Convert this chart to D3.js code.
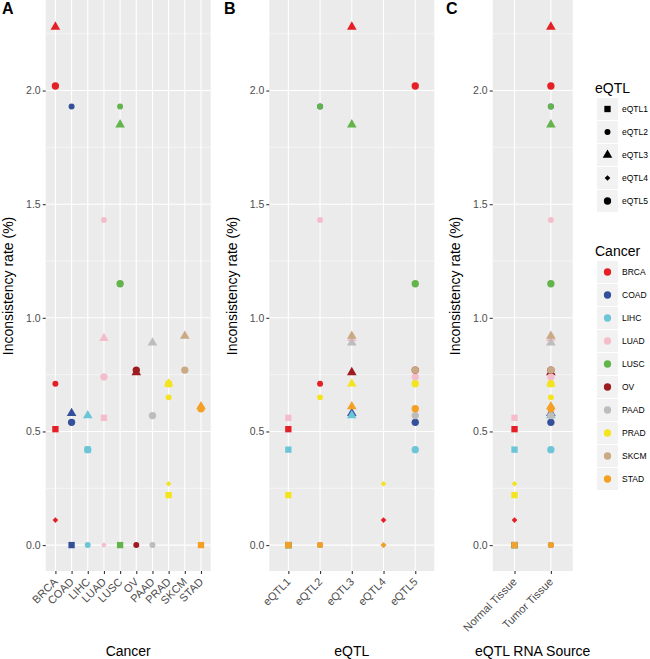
<!DOCTYPE html>
<html>
<head>
<meta charset="utf-8">
<script src="https://cdn.jsdelivr.net/npm/d3@7"></script>
<style>
  html, body { margin: 0; padding: 0; background: #fff; }
  svg { display: block; font-family: "Liberation Sans", Arial, Helvetica, sans-serif; }
</style>
</head>
<body>
<svg id="chart" width="650" height="659"></svg>
<script>
// ---------------- data ----------------
const cancers = ["BRCA","COAD","LIHC","LUAD","LUSC","OV","PAAD","PRAD","SKCM","STAD"];
const cancerColors = ["#E41F25","#35509A","#6CC6D7","#F5BDCC","#62B44B","#9E1C21","#BDBDBD","#F3E41F","#C9AA84","#F4A025"];
const eqtlTypes = ["eQTL1","eQTL2","eQTL3","eQTL4","eQTL5"];
const rnaSources = ["Normal Tissue","Tumor Tissue"];
const eqtlSource = ["Normal Tissue","Tumor Tissue","Tumor Tissue","Normal Tissue","Tumor Tissue"];
const yTicks = [0, 0.5, 1.0, 1.5, 2.0];
const yMinorTicks = [0.25, 0.75, 1.25, 1.75, 2.25];

// inconsistency rate (%) per cancer, in the order of `cancers` (null = not present)
const eqtl1Values = [0.51, 0,    0.42, 0.56, 0,    null, null, 0.22, null, 0   ];
const eqtl2Values = [0.71, 1.93, 0,    1.43, 1.93, 0,    0,    0.65, null, 0   ];
const eqtl3Values = [2.28, 0.58, 0.57, 0.91, 1.85, 0.76, 0.89, 0.71, 0.92, 0.61];
const eqtl4Values = [0.11, null, null, 0,    null, null, 0,    0.27, null, 0   ];
const eqtl5Values = [2.02, 0.54, 0.42, 0.74, 1.15, 0.77, 0.57, 0.71, 0.77, 0.60];

const seriesValues = [eqtl1Values, eqtl2Values, eqtl3Values, eqtl4Values, eqtl5Values];

// long table, ordered by eQTL then cancer (drawing order)
const rows = [];
eqtlTypes.forEach((eq, i) => {
  cancers.forEach((c, j) => {
    const v = seriesValues[i][j];
    if (v !== null && v !== undefined) {
      rows.push({ eqtl: eq, cancer: c, source: eqtlSource[i], value: v });
    }
  });
});

// ---------------- layout ----------------
const svg = d3.select("#chart");
const panelTop = 1, panelBottom = 571;
const panels = [
  { key: "cancer", label: "A", x0: 45.7,  x1: 210.7, domain: cancers,    title: "Cancer",          labelX: 2,   yTitleX: 13 },
  { key: "eqtl",   label: "B", x0: 269.3, x1: 434.3, domain: eqtlTypes,  title: "eQTL",            labelX: 224, yTitleX: 236.5 },
  { key: "source", label: "C", x0: 492.7, x1: 572.7, domain: rnaSources, title: "eQTL RNA Source", labelX: 446, yTitleX: 460 }
];

const yMax = d3.max(rows, d => d.value), yMin = 0;
const pad = (yMax - yMin) * 0.05;
const y = d3.scaleLinear().domain([yMin - pad, yMax + pad]).range([panelBottom, panelTop]);

const colorScale = d3.scaleOrdinal().domain(cancers).range(cancerColors);

// shapes: eQTL1 square, eQTL2 small circle, eQTL3 triangle, eQTL4 small diamond, eQTL5 large circle
const shapeSpec = {
  eQTL1: { type: d3.symbolSquare,   size: 40, rot: 0 },
  eQTL2: { type: d3.symbolCircle,   size: 28, rot: 0 },
  eQTL3: { type: d3.symbolTriangle, size: 40, rot: 0 },
  eQTL4: { type: d3.symbolSquare,   size: 16, rot: 45 },
  eQTL5: { type: d3.symbolCircle,   size: 42, rot: 0 }
};
const symPath = eq => d3.symbol().type(shapeSpec[eq].type).size(shapeSpec[eq].size)();

panels.forEach(p => {
  const g = svg.append("g");
  const x = d3.scalePoint().domain(p.domain).range([p.x0, p.x1]).padding(0.6);

  // background
  g.append("rect")
    .attr("x", p.x0).attr("y", 0)
    .attr("width", p.x1 - p.x0).attr("height", panelBottom)
    .attr("fill", "#EBEBEB");

  // minor grid
  g.selectAll(".ygm").data(yMinorTicks).join("line")
    .attr("x1", p.x0).attr("x2", p.x1)
    .attr("y1", d => y(d)).attr("y2", d => y(d))
    .attr("stroke", "#fff").attr("stroke-width", 0.55);
  // major grid
  g.selectAll(".yg").data(yTicks).join("line")
    .attr("x1", p.x0).attr("x2", p.x1)
    .attr("y1", d => y(d)).attr("y2", d => y(d))
    .attr("stroke", "#fff").attr("stroke-width", 1.1);
  g.selectAll(".xg").data(p.domain).join("line")
    .attr("x1", d => x(d)).attr("x2", d => x(d))
    .attr("y1", 0).attr("y2", panelBottom)
    .attr("stroke", "#fff").attr("stroke-width", 1.1);

  // points
  g.selectAll(".pt").data(rows).join("path")
    .attr("d", d => symPath(d.eqtl))
    .attr("transform", d => `translate(${x(d[p.key])},${y(d.value)}) rotate(${shapeSpec[d.eqtl].rot})`)
    .attr("fill", d => colorScale(d.cancer));

  // y axis
  const ya = g.append("g").attr("transform", `translate(${p.x0},0)`)
    .call(d3.axisLeft(y).tickValues(yTicks).tickFormat(d3.format(".1f")).tickSize(3).tickPadding(2));
  ya.select(".domain").remove();
  ya.selectAll(".tick line").attr("stroke", "#333").attr("stroke-width", 1.1);
  ya.selectAll(".tick text").attr("fill", "#4D4D4D").style("font-size", "10.5px")
    .style("font-family", "'Liberation Sans', Arial, sans-serif");

  // x axis
  const xa = g.append("g").attr("transform", `translate(0,${panelBottom})`)
    .call(d3.axisBottom(x).tickSize(3).tickPadding(2));
  xa.select(".domain").remove();
  xa.selectAll(".tick line").attr("stroke", "#333").attr("stroke-width", 1.1);
  xa.selectAll(".tick text")
    .attr("fill", "#4D4D4D").style("font-size", "11px")
    .style("font-family", "'Liberation Sans', Arial, sans-serif")
    .attr("text-anchor", "end")
    .attr("y", 0).attr("dy", "0.71em")
    .attr("transform", "translate(-3,6) rotate(-45)");

  // axis titles
  svg.append("text")
    .attr("x", (p.x0 + p.x1) / 2).attr("y", 656)
    .attr("text-anchor", "middle").attr("fill", "#000")
    .style("font-size", "14px").text(p.title);
  svg.append("text")
    .attr("transform", `translate(${p.yTitleX},${(panelTop + panelBottom) / 2}) rotate(-90)`)
    .attr("text-anchor", "middle").attr("fill", "#000")
    .style("font-size", "14px").text("Inconsistency rate (%)");

  // panel tag
  svg.append("text")
    .attr("x", p.labelX).attr("y", 14)
    .attr("fill", "#000").style("font-size", "16px").style("font-weight", "bold")
    .text(p.label);
});

// ---------------- legends ----------------
const legX = 597, keyW = 21, keyH = 22, keyStep = 23;
const leg1 = svg.append("g");
leg1.append("text").attr("x", legX - 2).attr("y", 93).style("font-size", "14px").attr("fill", "#000").text("eQTL");
eqtlTypes.forEach((eq, i) => {
  const cy = 109 + i * keyStep;
  leg1.append("rect").attr("x", legX).attr("y", cy - keyH / 2).attr("width", keyW).attr("height", keyH).attr("fill", "#F2F2F2");
  leg1.append("path").attr("d", symPath(eq))
    .attr("transform", `translate(${legX + keyW / 2},${cy}) rotate(${shapeSpec[eq].rot})`)
    .attr("fill", "#000");
  leg1.append("text").attr("x", legX + keyW + 4).attr("y", cy).attr("dy", "0.35em")
    .style("font-size", "8.5px").attr("fill", "#000").text(eq);
});

const leg2 = svg.append("g");
leg2.append("text").attr("x", legX - 2).attr("y", 256).style("font-size", "14px").attr("fill", "#000").text("Cancer");
cancers.forEach((c, i) => {
  const cy = 272 + i * keyStep;
  leg2.append("rect").attr("x", legX).attr("y", cy - keyH / 2).attr("width", keyW).attr("height", keyH).attr("fill", "#F2F2F2");
  leg2.append("path").attr("d", symPath("eQTL5"))
    .attr("transform", `translate(${legX + keyW / 2},${cy})`)
    .attr("fill", colorScale(c));
  leg2.append("text").attr("x", legX + keyW + 4).attr("y", cy).attr("dy", "0.35em")
    .style("font-size", "8.5px").attr("fill", "#000").text(c);
});
</script>
</body>
</html>
